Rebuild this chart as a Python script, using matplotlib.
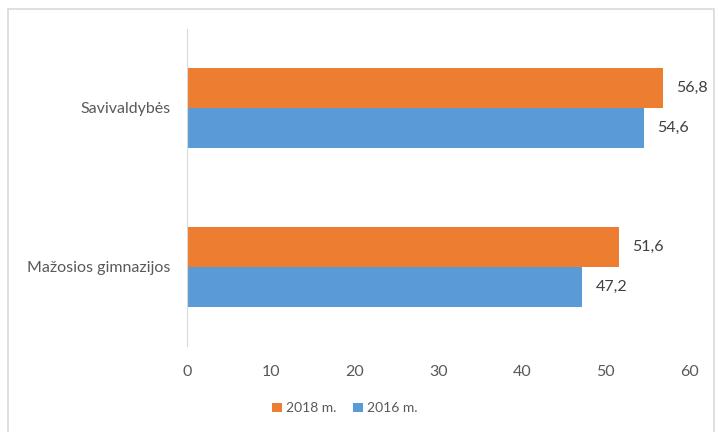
import matplotlib.pyplot as plt
from matplotlib.patches import Rectangle
import numpy as np

kategorijos = ['Mažosios gimnazijos', 'Savivaldybės']
reiksmes_2016 = [47.2, 54.6]
reiksmes_2018 = [51.6, 56.8]
x_ticks = [0, 10, 20, 30, 40, 50, 60]

oranzine = '#ED7D31'
melyna = '#5B9BD5'

plt.rcParams['font.family'] = ['Lato', 'DejaVu Sans']

fig = plt.figure(figsize=(7.18, 4.32), dpi=100)
ax = fig.add_axes([0.261, 0.198, 0.699, 0.736])

y = np.arange(len(kategorijos))
h = 0.25
b16 = ax.barh(y - h / 2, reiksmes_2016, height=h, color=melyna, label='2016 m.')
b18 = ax.barh(y + h / 2, reiksmes_2018, height=h, color=oranzine, label='2018 m.')

for bars, vals in [(b16, reiksmes_2016), (b18, reiksmes_2018)]:
    for bar, v in zip(bars, vals):
        ax.text(v + 1.6, bar.get_y() + bar.get_height() / 2, str(v).replace('.', ','),
                va='center', ha='left', fontsize=11.5, color='#404040')

ax.set_xlim(0, 60)
ax.set_ylim(-0.5, 1.5)
ax.set_xticks(x_ticks)
ax.set_yticks(y)
ax.set_yticklabels(kategorijos)
ax.tick_params(axis='both', length=0, labelsize=11.5, labelcolor='#595959')
ax.tick_params(axis='x', pad=13)
ax.tick_params(axis='y', pad=12)
for s in ['top', 'right', 'bottom']:
    ax.spines[s].set_visible(False)
ax.spines['left'].set_color('#D9D9D9')

handles = [b18, b16]
fig.legend(handles, [hd.get_label() for hd in handles], loc='center',
           bbox_to_anchor=(0.48, 0.055), ncol=2, frameon=False, fontsize=10,
           handlelength=0.7, handleheight=0.7, handletextpad=0.3, columnspacing=1.2,
           labelcolor='#595959')

# ramelis aplink diagramą
fig.patches.append(Rectangle((8 / 718, -0.01), 706 / 718, 1 - 9 / 432 + 0.01,
                             transform=fig.transFigure, fill=False,
                             edgecolor='#D9D9D9', linewidth=1.2))
# nukirpto teksto likutis viršuje
fig.text(0.133, 1.009, 'g', family='Liberation Serif', fontsize=14, va='baseline')

fig.savefig('out.png', dpi=100)
